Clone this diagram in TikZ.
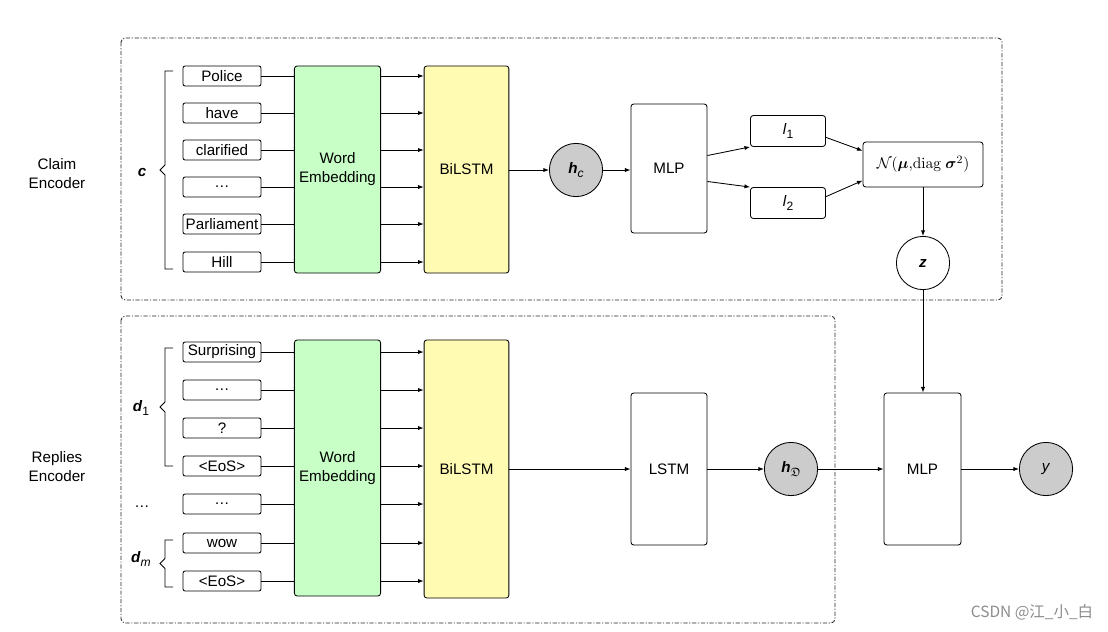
\documentclass[tikz,border=0pt]{standalone}
\usepackage{amsmath,amssymb}
\usepackage[no-math]{fontspec}
\setmainfont{Liberation Sans}
\newfontfamily\cjkfont{Noto Sans CJK SC}
\usetikzlibrary{arrows.meta,decorations.pathreplacing,positioning,calc}

\tikzset{
    word/.style={draw, rounded corners=1.5pt, minimum width=1.95cm, minimum height=0.5cm, inner sep=1pt},
    block/.style={draw, rounded corners=2pt, minimum width=2.12cm, align=center},
    circ/.style={draw, circle, minimum size=1.33cm, inner sep=0pt},
    arr/.style={-{Latex[length=4pt,width=3pt]}},
    encbox/.style={draw=black!85, dash pattern=on 3pt off 1.2pt on 0.8pt off 1.2pt, rounded corners=3pt}
}
\newcommand{\sub}[1]{\raisebox{-0.45ex}{\fontsize{8.6}{10}\selectfont #1}}
\newcommand{\leftbrk}[2]{\draw (173,#1) -- (165,#1) -- (165,{(#1+#2)/2-5}) -- (160,{(#1+#2)/2}) -- (165,{(#1+#2)/2+5}) -- (165,#2) -- (173,#2);}

\begin{document}
\begin{tikzpicture}[x=0.025cm, y=-0.025cm, font=\fontsize{10.8}{13.5}\selectfont, line width=0.6pt]
    \useasboundingbox (0,0) rectangle (1108,631);

    %
    \draw[encbox] (121,38) rectangle (1002,300);
    \draw[encbox] (121,316) rectangle (835,623);

    \node[align=center] (claimlbl) at (57,174) {Claim\\Encoder};
    \node[align=center] (replylbl) at (57,467) {Replies\\Encoder};

    %
    \node[block, fill=green!22, minimum height=5.175cm] (we1) at (337.5,169.5) {Word\\Embedding};
    \node[block, fill=yellow!30, minimum height=5.175cm] (bl1) at (466.5,169.5) {BiLSTM};

    \foreach \wrd/\yy [count=\i] in {Police/76, have/113, clarified/150, \ldots/187, Parliament/224, Hill/262}{
        \node[word] (cw\i) at (222,\yy) {\wrd};
        \draw (cw\i.east) -- (cw\i -| we1.west);
        \draw[arr] (cw\i -| we1.east) -- (cw\i -| bl1.west);
    }

    \leftbrk{71}{269}
    \node (clbl) at (142,172) {\textbf{\textit{c}}};

    %
    \node[circ, fill=black!20] (hc) at (576,170) {\textbf{\textit{h}}\sub{\textit{c}}};
    \node[block, minimum width=1.9cm, minimum height=3.225cm] (mlp1) at (669,168.5) {MLP};
    \node[block, minimum width=1.875cm, minimum height=0.775cm] (l1) at (788,131) {\textit{l}\sub{1}};
    \node[block, minimum width=1.875cm, minimum height=0.775cm] (l2) at (788,203) {\textit{l}\sub{2}};
    \node[block, minimum width=3cm, minimum height=1.125cm] (gauss) at (923,164.5) {$\mathcal{N}(\boldsymbol{\mu}{,}\mathrm{diag}\ \boldsymbol{\sigma}^2)$};
    \node[circ] (z) at (923,263) {\textbf{\textit{z}}};

    \draw[arr] (bl1.east |- hc) -- (hc);
    \draw[arr] (hc) -- (hc -| mlp1.west);
    \draw[arr] ($(mlp1.north east)!0.4!(mlp1.south east)$) -- (l1.south west);
    \draw[arr] ($(mlp1.north east)!0.6!(mlp1.south east)$) -- (l2.north west);
    \draw[arr] ($(l1.north east)!0.7!(l1.south east)$) -- ($(gauss.north west)!0.2!(gauss.south west)$);
    \draw[arr] ($(l2.north east)!0.3!(l2.south east)$) -- ($(gauss.north west)!0.85!(gauss.south west)$);
    \draw[arr] (gauss) -- (z);

    %
    \node[block, fill=green!22, minimum height=6.4cm] (we2) at (337.5,468) {Word\\Embedding};
    \node[block, fill=yellow!30, minimum height=6.45cm] (bl2) at (466.5,469) {BiLSTM};

    \foreach \wrd/\yy [count=\i] in {Surprising/352, \ldots/390, ?/428, <EoS>/466, \ldots/504, wow/543, <EoS>/581}{
        \node[word] (rw\i) at (222,\yy) {\wrd};
        \draw (rw\i.east) -- (rw\i -| we2.west);
        \draw[arr] (rw\i -| we2.east) -- (rw\i -| bl2.west);
    }

    \leftbrk{348}{466}
    \leftbrk{540}{587}
    \node (d1lbl) at (141,408) {\textbf{\textit{d}}\sub{1}};
    \node (dots) at (142,507) {\ldots};
    \node (dmlbl) at (141,559) {\textbf{\textit{d}}\sub{\textit{m}}};

    %
    \node[block, minimum width=1.9cm, minimum height=3.8cm] (lstm) at (669,469) {LSTM};
    \node[circ, fill=black!20] (hd) at (791,469) {\textbf{\textit{h}}\sub{$\mathfrak{D}$}};
    \node[block, minimum width=1.925cm, minimum height=3.8cm] (mlp2) at (922.5,469) {MLP};
    \node[circ, fill=black!20] (yout) at (1046,469) {\textit{y}};

    \draw[arr] (bl2.east |- lstm) -- (lstm);
    \draw[arr] (lstm) -- (hd);
    \draw[arr] (hd) -- (mlp2);
    \draw[arr] (mlp2) -- (yout);
    \draw[arr] (z) -- (z |- mlp2.north);

    %
    \node[text=black!45, font=\cjkfont\fontsize{11}{13}\selectfont] (wm) at (1032,612) {CSDN @江\_小\_白};

\end{tikzpicture}
\end{document}
